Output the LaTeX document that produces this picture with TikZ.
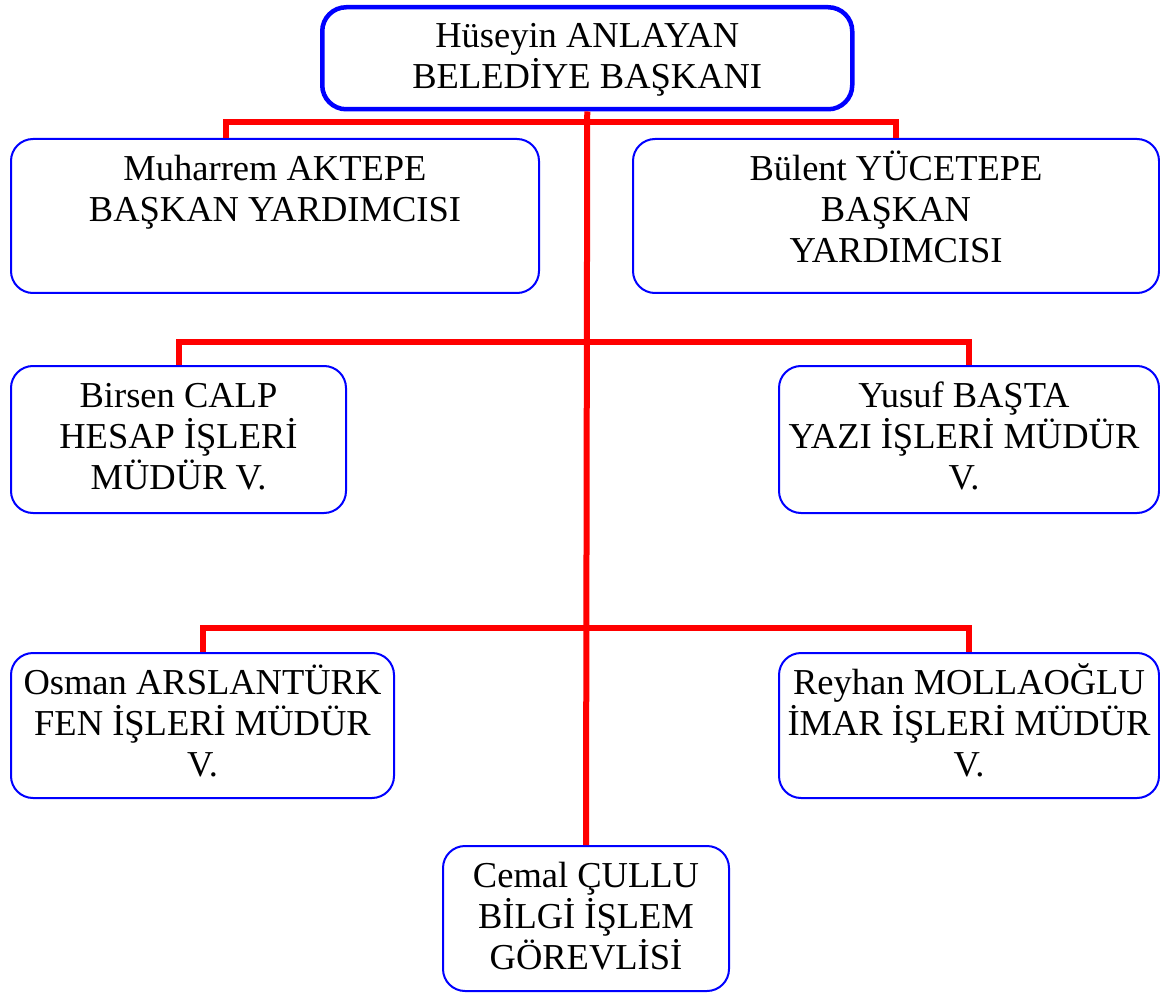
\documentclass[tikz,border=0pt]{standalone}
\usepackage{fontspec}
\setmainfont{Liberation Serif}
\newcommand\firststrut{\rule{0pt}{42.5pt}}
\begin{document}
\begin{tikzpicture}[x=1pt,y=-1pt,
  box/.style={draw=blue, line width=2pt, rounded corners=22pt, fill=white, inner sep=0pt, anchor=north west},
  topbox/.style={box, line width=4.5pt, rounded corners=24pt},
  txt/.style={anchor=north, inner sep=0pt, align=center, font=\fontsize{36.5}{41}\selectfont},
  link/.style={draw=red, line width=6pt}]
\useasboundingbox (0,0) rectangle (1160,995);
% boxes
\node[topbox, minimum width=530pt, minimum height=102pt] (top) at (320,5) {};
\node[box, minimum width=528pt, minimum height=154pt] (muh) at (10,138) {};
\node[box, minimum width=526pt, minimum height=154pt] (bul) at (632,138) {};
\node[box, minimum width=335pt, minimum height=147pt] (bir) at (10,365) {};
\node[box, minimum width=380pt, minimum height=147pt] (yus) at (778,365) {};
\node[box, minimum width=383pt, minimum height=145pt] (osm) at (10,652) {};
\node[box, minimum width=380pt, minimum height=145pt] (rey) at (778,652) {};
\node[box, minimum width=286pt, minimum height=145pt] (cem) at (442,845) {};
% connectors
\draw[link] (top.south) -- (cem.north);
\draw[link] ([xshift=-49pt]muh.north) -- ++(0,-16) -| (bul.north);
\draw[link] (bir.north) -- ++(0,-23) -| (yus.north);
\draw[link] (osm.north) -- ++(0,-24) -| (rey.north);
% texts
\node[txt] (topt) at ([yshift=0.5pt]top.north) {\firststrut Hüseyin ANLAYAN\\BELEDİYE BAŞKANI};
\node[txt] (muht) at (muh.north) {\firststrut Muharrem AKTEPE\\BAŞKAN YARDIMCISI};
\node[txt] (bult) at (bul.north) {\firststrut Bülent YÜCETEPE\\BAŞKAN\\YARDIMCISI};
\node[txt] (birt) at (bir.north) {\firststrut Birsen CALP\\HESAP İŞLERİ\\MÜDÜR V.};
\node[txt] (yust) at ([xshift=-5pt]yus.north) {\firststrut Yusuf BAŞTA\\YAZI İŞLERİ MÜDÜR\\V.};
\node[txt] (osmt) at (osm.north) {\firststrut Osman ARSLANTÜRK\\FEN İŞLERİ MÜDÜR\\V.};
\node[txt] (reyt) at (rey.north) {\firststrut Reyhan MOLLAOĞLU\\İMAR İŞLERİ MÜDÜR\\V.};
\node[txt] (cemt) at (cem.north) {\firststrut Cemal ÇULLU\\BİLGİ İŞLEM\\GÖREVLİSİ};
\end{tikzpicture}
\end{document}
